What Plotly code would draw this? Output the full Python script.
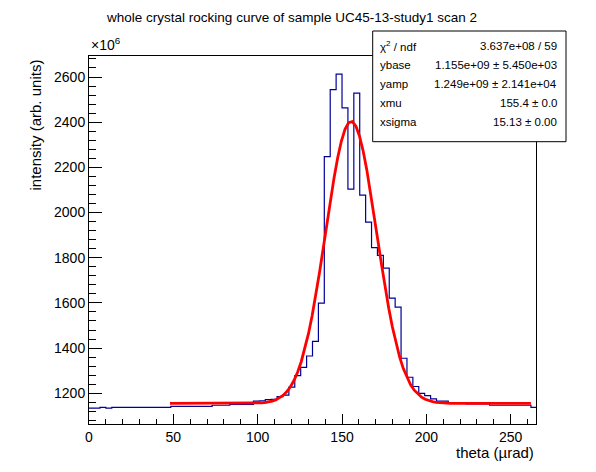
import numpy as np
import plotly.graph_objects as go

# ---- data (intensity in units of 1e6) ----
bin_x0 = -0.5
bin_width = 3.5
hist_values = [
    1134, 1134, 1138, 1134, 1138, 1138, 1138, 1138, 1138, 1138,
    1138, 1138, 1138, 1138, 1142, 1142, 1142, 1142, 1142, 1142,
    1142, 1147, 1147, 1147, 1151, 1151, 1151, 1151, 1165, 1166,
    1172, 1173, 1185, 1192, 1227, 1278, 1315, 1365, 1430, 1599,
    2248, 2544, 2613, 2463, 2104, 2529, 2077, 1958, 1845, 1810,
    1754, 1621, 1581, 1355, 1271, 1230, 1200, 1190, 1175, 1165,
    1165, 1157, 1157, 1157, 1153, 1153, 1153, 1153, 1147, 1147,
    1147, 1147, 1147, 1147, 1147, 1138, 1138,
]

# fit parameters (from stats box)
ybase = 1.155e9
yamp = 1.249e9
xmu = 155.4
xsigma = 15.13
fit_xmin = 48.0
fit_xmax = 262.0
fit_npx = 100

stat_labels = ["χ<sup>2</sup> / ndf", "ybase", "yamp", "xmu", "xsigma"]
stat_values = ["3.637e+08 / 59", "1.155e+09 ± 5.450e+03", "1.249e+09 ± 2.141e+04",
               "155.4 ± 0.0", "15.13 ± 0.00"]

x_range = [0, 265]
y_range = [1064, 2693]

# ---- build ----
edges = [bin_x0 + bin_width * i for i in range(len(hist_values) + 1)]
hx = edges
hy = hist_values + [hist_values[-1]]

fx = np.linspace(fit_xmin, fit_xmax, fit_npx)
fy = (ybase + yamp * np.exp(-0.5 * ((fx - xmu) / xsigma) ** 2)) / 1e6

FONT = "Liberation Sans, Arial, Helvetica, sans-serif"

fig = go.Figure()
fig.add_trace(go.Scatter(x=hx, y=hy, mode="lines", line=dict(color="#000099", width=1.2, shape="hv"),
                         hoverinfo="skip", showlegend=False))
fig.add_trace(go.Scatter(x=fx, y=fy, mode="lines", line=dict(color="#ff0000", width=2.8),
                         hoverinfo="skip", showlegend=False))

L, R, T, B = 89, 60, 56, 48
W = 596 - L - R
H = 472 - T - B

def px(xp):
    return (xp - L) / W

def py(yp):
    return (472 - B - yp) / H

fig.update_layout(
    width=596, height=472,
    margin=dict(l=L, r=R, t=T, b=B, pad=0, autoexpand=False),
    paper_bgcolor="white", plot_bgcolor="white",
    font=dict(family=FONT, size=14, color="black"),
    title=dict(text="whole crystal rocking curve of sample UC45-13-study1 scan 2",
               x=0.49, xanchor="center", y=1 - 17 / 472, yanchor="middle",
               font=dict(size=13.5, family=FONT, color="black")),
    xaxis=dict(range=x_range, showgrid=False, zeroline=False,
               showline=True, linecolor="black", linewidth=1, mirror=True,
               ticks="inside", ticklen=10, tickwidth=1, tickcolor="black",
               dtick=50, tick0=0, tickfont=dict(size=14),
               minor=dict(ticks="inside", ticklen=5, dtick=10, tickcolor="black", tickwidth=1, showgrid=False)),
    yaxis=dict(range=y_range, showgrid=False, zeroline=False,
               showline=True, linecolor="black", linewidth=1, mirror=True,
               ticks="inside", ticklen=13, tickwidth=1, tickcolor="black",
               dtick=200, tick0=0, tickfont=dict(size=14),
               minor=dict(ticks="inside", ticklen=7, dtick=40, tickcolor="black", tickwidth=1, showgrid=False)),
)

# axis titles (ROOT style: aligned to axis end)
fig.add_annotation(text="theta (µrad)", xref="paper", yref="paper", x=1, y=py(452),
                   xanchor="right", yanchor="middle", showarrow=False, font=dict(size=15))
fig.add_annotation(text="intensity (arb. units)", xref="paper", yref="paper", x=px(35), y=py(58),
                   xanchor="center", yanchor="top", textangle=-90, showarrow=False, font=dict(size=15))
fig.add_annotation(text="×10<sup>6</sup>", xref="paper", yref="paper", x=0, y=py(55),
                   xanchor="left", yanchor="bottom", showarrow=False, font=dict(size=14))

# stats box
fig.add_shape(type="rect", xref="paper", yref="paper",
              x0=px(372.7), x1=px(566), y0=py(141.7), y1=py(31),
              line=dict(color="black", width=1), fillcolor="white", layer="above")
for i, (lab, val) in enumerate(zip(stat_labels, stat_values)):
    yc = py(46.5 + 18.8 * i)
    fig.add_annotation(text=lab, xref="paper", yref="paper", x=px(378.3), y=yc,
                       xanchor="left", yanchor="middle", showarrow=False, font=dict(size=11.5))
    fig.add_annotation(text=val, xref="paper", yref="paper", x=px(559), y=yc,
                       xanchor="right", yanchor="middle", showarrow=False, font=dict(size=11.5))

fig.write_html("out.html", config={"displayModeBar": False},
               post_script="document.body.style.margin='0px';")
